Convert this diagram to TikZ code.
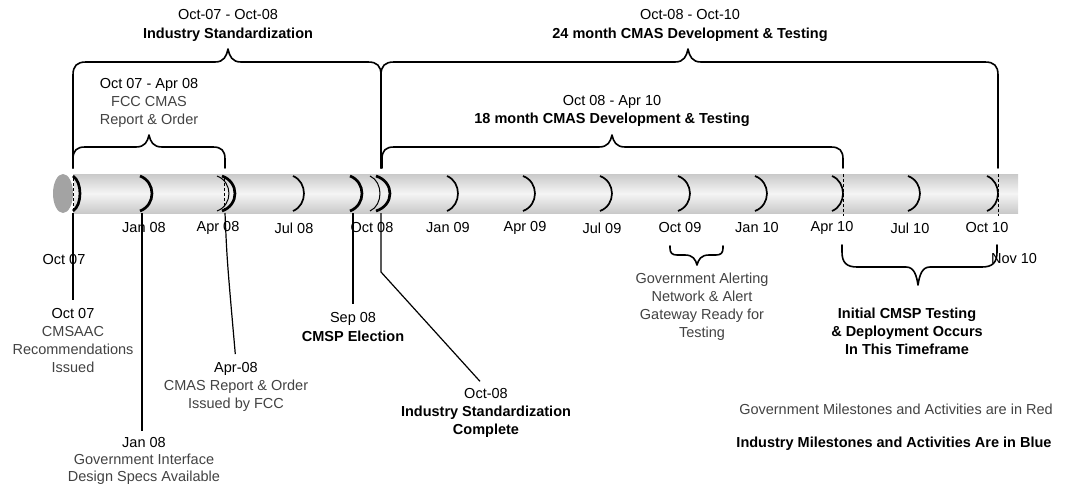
\documentclass[tikz,border=0pt]{standalone}
\usepackage{fontspec}
\setmainfont{Liberation Sans}
\colorlet{govc}{black!74}
\newcommand\mytick[3][]{\draw[#1] ({#2},176) .. controls ({#2+1.33*#3},182) and ({#2+1.33*#3},205) .. ({#2},211);}
% brace with tip up: #1 x1, #2 x2, #3 xm, #4 yh, #5 yleg, #6 r, #7 h
\newcommand\braceup[7]{\draw[brace] ({#1},{#5}) -- ({#1},{#4+#6}) .. controls ({#1},{#4+0.3*#6}) and ({#1+0.3*#6},{#4}) .. ({#1+#6},{#4}) -- ({#3-13},{#4}) .. controls ({#3-4},{#4}) and ({#3-1.5},{#4-0.45*#7}) .. ({#3},{#4-#7}) .. controls ({#3+1.5},{#4-0.45*#7}) and ({#3+4},{#4}) .. ({#3+13},{#4}) -- ({#2-#6},{#4}) .. controls ({#2-0.3*#6},{#4}) and ({#2},{#4+0.3*#6}) .. ({#2},{#4+#6}) -- ({#2},{#5});}
% brace with tip down
\newcommand\bracedown[7]{\draw[brace] ({#1},{#5}) -- ({#1},{#4-#6}) .. controls ({#1},{#4-0.3*#6}) and ({#1+0.3*#6},{#4}) .. ({#1+#6},{#4}) -- ({#3-12},{#4}) .. controls ({#3-4},{#4}) and ({#3-1.5},{#4+0.45*#7}) .. ({#3},{#4+#7}) .. controls ({#3+1.5},{#4+0.45*#7}) and ({#3+4},{#4}) .. ({#3+12},{#4}) -- ({#2-#6},{#4}) .. controls ({#2-0.3*#6},{#4}) and ({#2},{#4-0.3*#6}) .. ({#2},{#4-#6}) -- ({#2},{#5});}
\begin{document}
\begin{tikzpicture}[x=1pt,y=-1pt,
  lbl/.style={font=\fontsize{14.5}{18}\selectfont, inner sep=0pt, align=center, anchor=north, text=black},
  axl/.style={font=\fontsize{14.5}{18}\selectfont, inner sep=0pt, text=black},
  brace/.style={line width=1.6pt, line join=round, line cap=round},
  normtick/.style={line width=1.7pt},
  thicktick/.style={line width=2.7pt},
  thintick/.style={line width=1pt},
  conn/.style={line width=1.2pt, shorten >=8pt},
  dashv/.style={line width=1pt, dash pattern=on 3pt off 2pt}
]
\useasboundingbox (0,0) rectangle (1070,484);
% cylinder
\shade[top color=gray!42, bottom color=gray!42, middle color=gray!8] (73,174) rectangle (1018,213);
\fill[gray!72] (63,193.5) ellipse [x radius=10, y radius=19.5];
\draw[dashv, white] (73,176) -- (73,211);
\draw[dashv] (73,178) -- (73,211);
% ticks
\mytick[thicktick]{73}{7}
\mytick[thicktick]{140}{12}
\mytick[thintick]{217}{12}
\mytick[thicktick]{222}{13}
\draw[dashv] (224,178) -- (224,211);
\mytick[normtick]{293}{11}
\mytick[thicktick]{350}{12}
\mytick[thintick]{370}{10}
\mytick[thicktick]{376}{14}
\mytick[normtick]{447}{11}
\mytick[normtick]{523}{12}
\mytick[normtick]{600}{12}
\mytick[normtick]{678}{12}
\mytick[normtick]{755}{12}
\mytick[normtick]{832}{11}
\draw[dashv] (843,174) -- (843,216);
\mytick[normtick]{908}{12}
\mytick[normtick]{987}{11}
\draw[dashv] (998,174) -- (998,216);
% braces
\braceup{73}{381}{228}{62}{168}{13}{13}
\braceup{381}{998}{688}{62}{168}{13}{13}
\braceup{73}{225}{149}{147}{168}{12}{12}
\braceup{382}{843}{612}{147}{168}{12}{12}
\bracedown{670}{723}{697}{255}{246}{7}{10}
\bracedown{842}{997}{918}{267}{245}{15}{18}
% axis labels
\node[axl] (a1) at (144,228) {Jan 08};
\node[axl] (a2) at (218,228) {Apr 08};
\node[axl] (a3) at (294,228) {Jul 08};
\node[axl] (a4) at (372,228) {Oct 08};
\node[axl] (a5) at (448,228) {Jan 09};
\node[axl] (a6) at (525,228) {Apr 09};
\node[axl] (a7) at (602,228) {Jul 09};
\node[axl] (a8) at (680,228) {Oct 09};
\node[axl] (a9) at (757,228) {Jan 10};
\node[axl] (a10) at (832,228) {Apr 10};
\node[axl] (a11) at (910,228) {Jul 10};
\node[axl] (a12) at (987,228) {Oct 10};
\node[axl] (a0) at (64,260) {Oct 07};
\node[axl] (a13) at (1014,259) {Nov 10};
% top labels
\node[lbl] (t1) at (228,9) {Oct-07 - Oct-08\\[1pt]\textbf{Industry Standardization}};
\node[lbl] (t2) at (149,78) {Oct 07 - Apr 08\\\textcolor{govc}{FCC CMAS}\\\textcolor{govc}{Report \& Order}};
\node[lbl] (t3) at (690,9) {Oct-08 - Oct-10\\[1pt]\textbf{24 month CMAS Development \& Testing}};
\node[lbl] (t4) at (612,95) {Oct 08 - Apr 10\\\textbf{18 month CMAS Development \& Testing}};
% milestone labels
\node[lbl] (m1) at (73,308) {Oct 07\\\textcolor{govc}{CMSAAC}\\\textcolor{govc}{Recommendations}\\\textcolor{govc}{Issued}};
\node[lbl, font=\fontsize{14.5}{17}\selectfont] (m2) at (144,437) {Jan 08\\\textcolor{govc}{Government Interface}\\\textcolor{govc}{Design Specs Available}};
\node[lbl] (m3) at (236,362) {Apr-08\\\textcolor{govc}{CMAS Report \& Order}\\\textcolor{govc}{Issued by FCC}};
\node[lbl] (m4) at (353,312) {Sep 08\\[1pt]\textbf{CMSP Election}};
\node[lbl] (m5) at (486,388) {Oct-08\\\textbf{Industry Standardization}\\\textbf{Complete}};
\node[lbl] (m6) at (702,273) {\textcolor{govc}{Government Alerting}\\\textcolor{govc}{Network \& Alert}\\\textcolor{govc}{Gateway Ready for}\\\textcolor{govc}{Testing}};
\node[lbl] (m7) at (907,308) {\textbf{Initial CMSP Testing}\\\textbf{\& Deployment Occurs}\\\textbf{In This Timeframe}};
% legend
\node[axl, text=govc] (g1) at (896,409) {Government Milestones and Activities are in Red};
\node[axl, font=\fontsize{14.5}{18}\selectfont\bfseries] (g2) at (894,444) {Industry Milestones and Activities Are in Blue};
% connectors
\coordinate (c07) at (73,213);
\coordinate (c08j) at (142,213);
\coordinate (c08a) at (225,213);
\coordinate (c08s) at (353,213);
\coordinate (c08o) at (381,213);
\coordinate (b08o) at (381,272);
\draw[conn] (c07) -- (m1.north);
\draw[conn, shorten >=6pt] (c08j) -- (c08j |- m2.north);
\draw[conn] (c08a) .. controls (227,260) .. (m3.north);
\draw[conn] (c08s) -- (m4.north);
\draw[conn, shorten >=9pt] (c08o) -- (b08o) -- (m5.north);
\end{tikzpicture}
\end{document}
